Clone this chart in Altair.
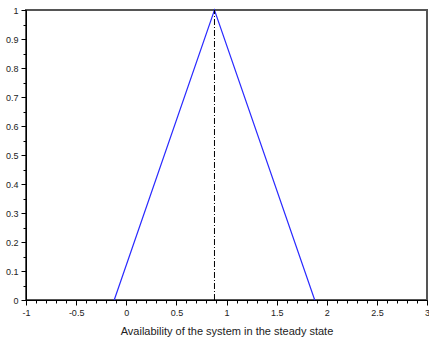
import altair as alt
import pandas as pd

# Triangular membership function of the steady-state availability
tri_x = [-0.12, 0.88, 1.88]
tri_y = [0.0, 1.0, 0.0]

# Vertical marker at the peak value
peak_x = [0.88, 0.88]
peak_y = [0.0, 1.0]

x_ticks = [round(-1 + 0.1 * i, 1) for i in range(41)]
y_ticks = [round(0.05 * i, 2) for i in range(21)]

tri = pd.DataFrame({"x": tri_x, "y": tri_y})
peak = pd.DataFrame({"x": peak_x, "y": peak_y})

x_scale = alt.Scale(domain=[-1, 3], nice=False, zero=False)
y_scale = alt.Scale(domain=[0, 1], nice=False, zero=False)

x_major = "abs(datum.value*2 - round(datum.value*2)) < 1e-6"
y_major = "abs(datum.value*10 - round(datum.value*10)) < 1e-6"

x_axis = alt.Axis(
    title="Availability of the system in the steady state",
    values=x_ticks,
    labelExpr=f"{x_major} ? toString(round(datum.value*10)/10) : ''",
    tickSize={"condition": {"test": x_major, "value": 5}, "value": 3},
    grid=False,
    domainColor="#000000",
    tickColor="#000000",
    labelColor="#222222",
    labelFontSize=9,
    titleFontSize=11,
    titleFontWeight="normal",
    titleColor="#222222",
    labelPadding=3,
    titlePadding=8,
    labelFlush=False,
    labelOverlap=False,
)
y_axis = alt.Axis(
    title=None,
    values=y_ticks,
    labelExpr=f"{y_major} ? toString(round(datum.value*10)/10) : ''",
    tickSize={"condition": {"test": y_major, "value": 5}, "value": 3},
    grid=False,
    domainColor="#000000",
    tickColor="#000000",
    labelColor="#222222",
    labelFontSize=9,
    labelPadding=3,
    labelFlush=False,
    labelOverlap=False,
)

enc_x = alt.X("x:Q", scale=x_scale, axis=x_axis)
enc_y = alt.Y("y:Q", scale=y_scale, axis=y_axis)

line = alt.Chart(tri).mark_line(color="#2a2aff", strokeWidth=1.2).encode(
    x=enc_x, y=enc_y
)

marker = alt.Chart(peak).mark_line(
    color="#000000", strokeWidth=1, strokeDash=[6, 2, 1, 2]
).encode(x=enc_x, y=enc_y)

chart = (
    alt.layer(line, marker)
    .properties(
        width=401,
        height=290,
        autosize=alt.AutoSizeParams(type="none"),
        padding={"left": 26, "top": 10, "right": 2, "bottom": 45},
        background="white",
        view=alt.ViewBackground(stroke="#555555", strokeWidth=2),
    )
    .configure(font="Liberation Sans")
)

chart.save("out.html", embed_options={"renderer": "svg", "actions": False})
